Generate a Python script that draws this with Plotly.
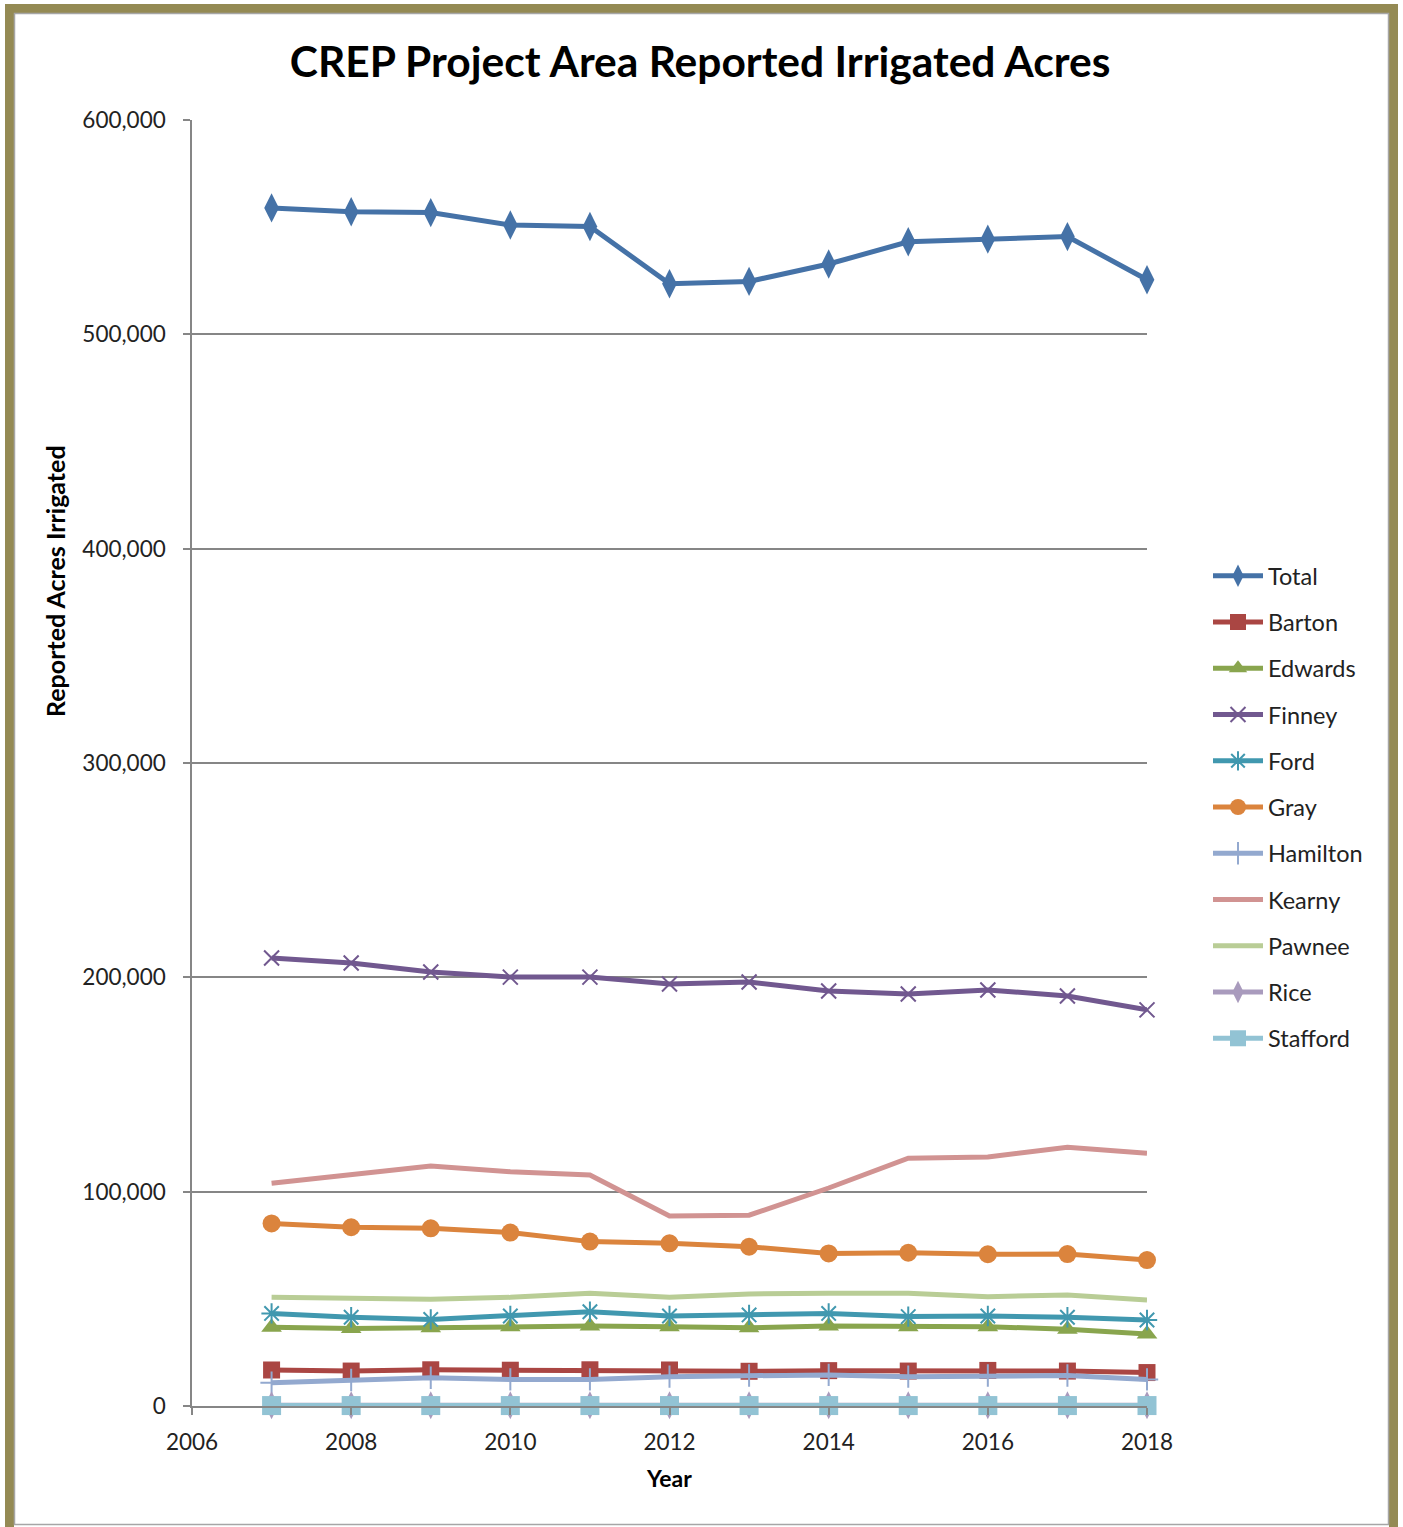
import plotly.graph_objects as go

years = [2007, 2008, 2009, 2010, 2011, 2012, 2013, 2014, 2015, 2016, 2017, 2018]

total    = [559000, 557200, 556800, 551000, 550300, 523600, 524700, 532800, 543200, 544400, 545600, 525500]
barton   = [16800, 16300, 16900, 16700, 16900, 16800, 16200, 16500, 16300, 16600, 16300, 15600]
edwards  = [36700, 36200, 36500, 37000, 37300, 37000, 36500, 37300, 37000, 37000, 35800, 33600]
finney   = [209000, 206700, 202500, 200100, 200100, 196900, 197800, 193600, 192200, 194100, 191300, 184800]
ford     = [43200, 41400, 40400, 42000, 44000, 42000, 42500, 43200, 41700, 42000, 41400, 40100]
gray     = [85200, 83400, 82900, 80900, 76700, 75900, 74300, 71200, 71500, 70800, 70900, 68100]
hamilton = [10900, 12100, 13200, 12400, 12400, 13700, 14200, 14500, 13700, 14200, 14200, 12400]
kearny   = [103900, 108200, 112000, 109300, 107800, 88700, 89000, 101700, 115600, 116200, 120700, 117900]
pawnee   = [50700, 50400, 49800, 50700, 52600, 50700, 52300, 52600, 52600, 51000, 51800, 49500]
rice     = [300, 300, 300, 300, 300, 300, 300, 300, 300, 300, 300, 300]
stafford = [200, 200, 200, 200, 200, 200, 200, 200, 200, 200, 200, 200]

y_ticks = [0, 100000, 200000, 300000, 400000, 500000, 600000]
y_tick_labels = ["0", "100,000", "200,000", "300,000", "400,000", "500,000", "600,000"]
x_ticks = [2006, 2008, 2010, 2012, 2014, 2016, 2018]

series = [
    ("Total", total, "#4572A7", "diamond-tall", 21, 0),
    ("Barton", barton, "#AA4643", "square", 17, 0),
    ("Edwards", edwards, "#89A54E", "triangle-up", 18, 0),
    ("Finney", finney, "#71588F", "x-thin-open", 15, 2),
    ("Ford", ford, "#4198AF", "asterisk-open", 17, 2),
    ("Gray", gray, "#DB843D", "circle", 18, 0),
    ("Hamilton", hamilton, "#93A9CF", "cross-thin-open", 16, 2),
    ("Kearny", kearny, "#D19392", None, 0, 0),
    ("Pawnee", pawnee, "#B9CD96", None, 0, 0),
    ("Rice", rice, "#A99BBD", "diamond-tall", 20, 0),
    ("Stafford", stafford, "#92C3D4", "square", 19, 0),
]

FONT = "Lato"
fig = go.Figure()
for i, (name, vals, color, sym, size, lw) in enumerate(series):
    if sym is None:
        mode = "lines"
        marker = None
    else:
        mode = "lines+markers"
        marker = dict(symbol=sym, size=size, color=color, line=dict(width=lw, color=color))
    fig.add_trace(go.Scatter(
        x=years, y=vals, name=name, mode=mode, marker=marker,
        line=dict(color=color, width=5), cliponaxis=False,
        legendgroup=name,
    ))

L, R, T, B = 192, 256, 120, 121
PW = 1403 - L - R
PH = 1527 - T - B

def px(x):
    return (x - L) / PW

def py(y):
    return (1527 - B - y) / PH

shapes = [
    dict(type="rect", xref="paper", yref="paper", x0=px(9.5), x1=px(1393.5), y0=py(1535), y1=py(8.5),
         line=dict(color="#948A54", width=9), fillcolor="rgba(0,0,0,0)", layer="above"),
    dict(type="rect", xref="paper", yref="paper", x0=px(14.5), x1=px(1388.5), y0=py(1524.5), y1=py(13.5),
         line=dict(color="#A6A6A6", width=1.5), fillcolor="rgba(0,0,0,0)", layer="above"),
]

annotations = [
    dict(text="<b>Reported Acres Irrigated</b>", xref="paper", yref="paper", x=px(55), y=py(581),
         textangle=-90, showarrow=False, font=dict(family=FONT, size=25, color="#000000"),
         xanchor="center", yanchor="middle"),
    dict(text="<b>Year</b>", xref="paper", yref="paper", x=px(669), y=py(1478),
         showarrow=False, font=dict(family=FONT, size=23, color="#000000"),
         xanchor="center", yanchor="middle"),
]

fig.update_layout(
    width=1403, height=1527,
    margin=dict(l=L, r=R, t=T, b=B),
    paper_bgcolor="white", plot_bgcolor="white",
    font=dict(family=FONT, size=22, color="#222222"),
    title=dict(text="<b>CREP Project Area Reported Irrigated Acres</b>", xref="container", yref="container",
               x=0.499, y=1 - 62 / 1527, xanchor="center", yanchor="middle",
               font=dict(family=FONT, size=42.5, color="#000000")),
    xaxis=dict(range=[2006, 2018], tickvals=x_ticks, showgrid=False, zeroline=False,
               showline=True, linecolor="#868686", linewidth=1.5, ticks="outside", ticklen=7,
               tickcolor="#868686", tickwidth=1.5, ticklabelstandoff=8,
               tickfont=dict(family=FONT, size=22.5, color="#222222")),
    yaxis=dict(range=[0, 600000], tickvals=y_ticks, ticktext=y_tick_labels, showgrid=True,
               gridcolor="#868686", gridwidth=1.5, zeroline=False, showline=True,
               linecolor="#868686", linewidth=1.5, ticks="outside", ticklen=7, tickcolor="#868686",
               tickwidth=1.5, ticklabelstandoff=13,
               tickfont=dict(family=FONT, size=22.5, color="#222222")),
    legend=dict(x=px(1208), y=py(554), xanchor="left", yanchor="top", traceorder="grouped",
                tracegroupgap=12.7, itemwidth=50, bgcolor="rgba(0,0,0,0)",
                font=dict(family=FONT, size=23.5, color="#222222")),
    shapes=shapes, annotations=annotations,
)

fig.write_html("out.html")
